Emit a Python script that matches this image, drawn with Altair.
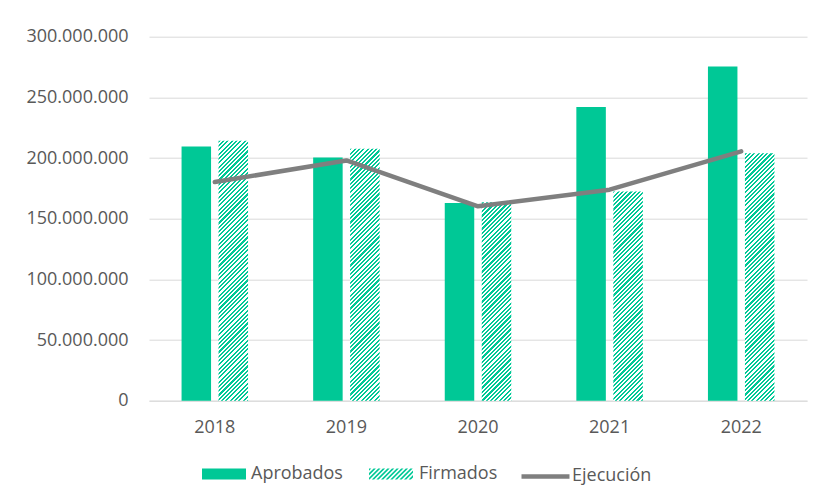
import altair as alt
import pandas as pd

# ---------------- data ----------------
years = ["2018", "2019", "2020", "2021", "2022"]
aprobados = [209.6e6, 200.5e6, 163.0e6, 242.0e6, 275.5e6]
firmados = [214.3e6, 207.7e6, 163.5e6, 172.5e6, 204.0e6]
ejecucion = [180.2e6, 198.0e6, 160.2e6, 173.9e6, 205.5e6]
series = ["Aprobados", "Firmados", "Ejecución"]
y_ticks = [0, 50e6, 100e6, 150e6, 200e6, 250e6, 300e6]

# ---------------- style ----------------
GREEN = "#00C896"
WHITE = "#FFFFFF"
GRAY = "#7F7F7F"
TEXT = "#595959"
GRID = "#D9D9D9"
FONT = "Open Sans"
W, H = 658, 364
YMAX = 300e6
BAR_W = 29.5
PERIOD = 4.3


def hatch_gradient(value):
    """Diagonal '///' hatch as a hard-stop linear gradient (bbox units)."""
    h = value / YMAX * H
    r = h / BAR_W
    denom = BAR_W * (1 + r * r)
    span = BAR_W + h
    stops = []
    k = 0
    while k * PERIOD < span + PERIOD:
        s = k * PERIOD
        m = s + PERIOD * 0.5
        e = s + PERIOD
        t0, t1, t2 = (min(v / denom, 1.0) for v in (s, m, e))
        stops += [
            {"offset": round(t0, 6), "color": GREEN},
            {"offset": round(t1, 6), "color": GREEN},
            {"offset": round(t1, 6), "color": WHITE},
            {"offset": round(t2, 6), "color": WHITE},
        ]
        k += 1
    return {"gradient": "linear", "x1": 0, "y1": 0, "x2": 1, "y2": r, "stops": stops}


def clip_x(poly, xmin, xmax):
    def clip_edge(pts, inside, x0):
        out = []
        for i in range(len(pts)):
            cur, prev = pts[i], pts[i - 1]

            def inter(p, q):
                return (x0, p[1] + (q[1] - p[1]) * (x0 - p[0]) / (q[0] - p[0]))
            if inside(cur):
                if not inside(prev):
                    out.append(inter(prev, cur))
                out.append(cur)
            elif inside(prev):
                out.append(inter(prev, cur))
        return out
    pts = clip_edge(poly, lambda p: p[0] >= xmin, xmin)
    if not pts:
        return []
    return clip_edge(pts, lambda p: p[0] <= xmax, xmax)


def hatch_symbol_path():
    xmin, xmax, ymin, ymax = -1.0, 1.0, -0.25, 0.25
    unit = 22.0
    p = 4.6 / unit
    d = p / 2
    parts = []
    c = xmin + ymin - p
    while c < xmax + ymax:
        poly = [(c - ymin, ymin), (c + d - ymin, ymin), (c + d - ymax, ymax), (c - ymax, ymax)]
        cl = clip_x(poly, xmin, xmax)
        if len(cl) >= 3:
            parts.append("M" + "L".join(f"{x:.3f},{y:.3f}" for x, y in cl) + "Z")
        c += p
    return "".join(parts)


HATCH = hatch_symbol_path()
RECT = "M-1,-0.25L1,-0.25L1,0.25L-1,0.25Z"

LEG = dict(title=None, orient="none", direction="horizontal", labelFontSize=18,
           labelColor=TEXT, labelFont=FONT, padding=0)

# ---------------- encodings ----------------
x_enc = alt.X(
    "year:N",
    scale=alt.Scale(domain=years, paddingInner=0, paddingOuter=0, round=False),
    axis=alt.Axis(
        title=None, labelAngle=0, ticks=False, labelPadding=18, grid=False,
        domainColor=GRID, domainWidth=1, labelFontSize=18, labelColor=TEXT,
        labelFont=FONT,
    ),
)
xoff_enc = alt.XOffset(
    "serie:N",
    scale=alt.Scale(domain=["Aprobados", "Firmados"], paddingInner=0.2027,
                    paddingOuter=0.88, round=False),
)
y_enc = alt.Y(
    "value:Q",
    scale=alt.Scale(domain=[0, YMAX], nice=False, zero=True),
    axis=alt.Axis(
        title=None, values=y_ticks, domain=False, ticks=False, labelPadding=21,
        gridColor=GRID, gridWidth=1, labelFontSize=18, labelColor=TEXT,
        labelFont=FONT,
        labelExpr="replace(format(datum.value, ',d'), regexp(',', 'g'), '.')",
    ),
)

# ---------------- layers ----------------
df_ap = pd.DataFrame({"year": years, "serie": series[0], "value": aprobados,
                      "leg2": series[1]})
aprob = alt.Chart(df_ap).mark_bar().encode(
    x=x_enc, xOffset=xoff_enc, y=y_enc,
    color=alt.Color(
        "serie:N", scale=alt.Scale(domain=[series[0]], range=[GREEN]),
        legend=alt.Legend(symbolType=RECT, symbolSize=1936, symbolStrokeWidth=0,
                          labelOffset=5, legendX=53, legendY=415.3, **LEG),
    ),
    opacity=alt.Opacity(
        "leg2:O", scale=alt.Scale(type="point", domain=[series[1]], range=[1, 1]),
        legend=alt.Legend(symbolType=HATCH, symbolSize=1936, symbolFillColor=GREEN,
                          symbolStrokeWidth=0, symbolOpacity=1, labelOffset=6,
                          legendX=220, legendY=415.3, **LEG),
    ),
)

firm_layers = []
for yr, val in zip(years, firmados):
    df_f = pd.DataFrame({"year": [yr], "serie": [series[1]], "value": [val]})
    firm_layers.append(
        alt.Chart(df_f).mark_bar(fill=hatch_gradient(val)).encode(
            x=x_enc, xOffset=xoff_enc, y=y_enc
        )
    )

df_line = pd.DataFrame({"year": years, "value": ejecucion, "leg3": series[2]})
line = alt.Chart(df_line).mark_line(
    strokeWidth=4.5, interpolate="linear", strokeCap="round", strokeJoin="round"
).encode(
    x=x_enc, y=y_enc,
    stroke=alt.Stroke(
        "leg3:N", scale=alt.Scale(domain=[series[2]], range=[GRAY]),
        legend=alt.Legend(symbolType="stroke", symbolSize=2304, symbolStrokeWidth=4.5,
                          labelOffset=0, legendX=370, legendY=413.3, **LEG),
    ),
)

chart = alt.layer(aprob, *firm_layers, line).properties(
    width=W, height=H,
    autosize=alt.AutoSizeParams(type="none"),
    padding={"left": 141, "top": 28.7, "right": 6, "bottom": 85},
).configure(font=FONT, background="white").configure_view(strokeWidth=0)

chart.save("out.html", embed_options={"renderer": "svg", "actions": False})
